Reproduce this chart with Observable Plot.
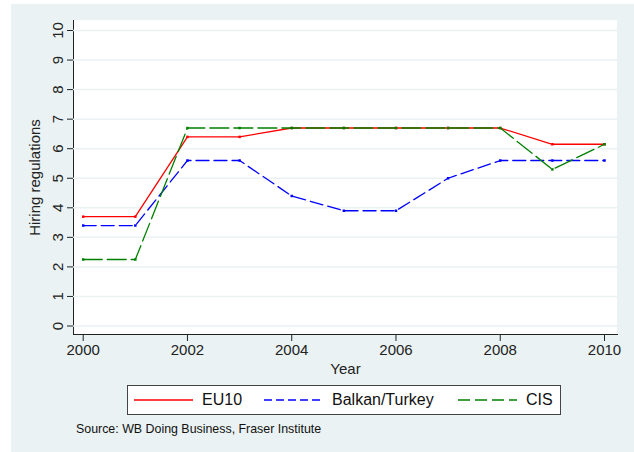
<!DOCTYPE html>
<html>
<head>
<meta charset="utf-8">
<script src="https://cdn.jsdelivr.net/npm/d3@7"></script>
<script src="https://cdn.jsdelivr.net/npm/@observablehq/plot@0.6"></script>
<style>
body { margin: 0; background: #fff; font-family: "Liberation Sans", Arial, sans-serif; }
#panel { position: absolute; left: 11px; top: 4px; width: 623px; height: 448px; background: #eaf2f3; }
#plotbg { position: absolute; left: 62px; top: 16px; width: 544px; height: 314px; background: #fff; }
#chart { position: absolute; left: 0; top: 0; }
#legend { position: absolute; left: 116px; top: 381px; width: 432px; height: 28px; background: #fff; border: 1.5px solid #444; }
.item { position: absolute; top: 0; height: 28px; display: flex; align-items: center; font-size: 16px; color: #111; }
.item svg { margin-right: 9px; }
#source { position: absolute; left: 65px; top: 418px; font-size: 12.4px; color: #111; }
</style>
</head>
<body>
<div id="panel">
  <div id="plotbg"></div>
  <div id="chart"></div>
  <div id="legend"></div>
  <div id="source">Source: WB Doing Business, Fraser Institute</div>
</div>
<script>
const years = [2000, 2001, 2002, 2003, 2004, 2005, 2006, 2007, 2008, 2009, 2010];
const eu10 = [3.7, 3.7, 6.4, 6.4, 6.7, 6.7, 6.7, 6.7, 6.7, 6.15, 6.15];
const balkan = [3.4, 3.4, 5.6, 5.6, 4.4, 3.9, 3.9, 5.0, 5.6, 5.6, 5.6];
const cis = [2.25, 2.25, 6.7, 6.7, 6.7, 6.7, 6.7, 6.7, 6.7, 5.3, 6.15];
const xTicks = [2000, 2002, 2004, 2006, 2008, 2010];
const yTicks = [0, 1, 2, 3, 4, 5, 6, 7, 8, 9, 10];

const series = [
  {name: "EU10", values: eu10, color: "#ff0000", dash: null, key: null},
  {name: "Balkan/Turkey", values: balkan, color: "#0000ff", dash: "13,5", key: "8,4"},
  {name: "CIS", values: cis, color: "#008000", dash: "19,5", key: "12,5"}
];

const lineMarks = [];
series.forEach(s => {
  const rows = years.map((y, i) => ({year: y, value: s.values[i]}));
  lineMarks.push(Plot.lineY(rows, {x: "year", y: "value", stroke: s.color, strokeWidth: 1.3, strokeDasharray: s.dash}));
  lineMarks.push(Plot.dot(rows, {x: "year", y: "value", symbol: "square", r: 1.4, fill: s.color, stroke: null}));
});

const chart = Plot.plot({
  width: 623,
  height: 375,
  marginLeft: 62,
  marginRight: 17,
  marginTop: 16,
  marginBottom: 45,
  style: {background: "none", color: "#222", fontFamily: "Liberation Sans, Arial, sans-serif", fontSize: "15px"},
  x: {
    domain: [2000, 2010],
    insetLeft: 9.7,
    insetRight: 13,
    ticks: xTicks,
    tickFormat: "d",
    tickSize: 7,
    tickPadding: 3,
    line: true,
    label: "Year",
    labelArrow: "none",
    labelAnchor: "center",
    labelOffset: 39
  },
  y: {
    domain: [0, 10],
    insetTop: 10,
    insetBottom: 8.5,
    ticks: yTicks,
    tickSize: 6,
    tickPadding: 5,
    tickRotate: -90,
    line: true,
    label: "Hiring regulations",
    labelArrow: "none",
    labelAnchor: "center",
    labelOffset: 44
  },
  marks: [
    Plot.gridY(yTicks, {stroke: "#eaf2f3", strokeOpacity: 1, strokeWidth: 1.5}),
    ...lineMarks
  ]
});
document.getElementById("chart").append(chart);

const legend = document.getElementById("legend");
const lefts = [6, 136, 330];
series.forEach((s, i) => {
  const item = document.createElement("div");
  item.className = "item";
  item.style.left = lefts[i] + "px";
  item.innerHTML = `<svg width="59" height="4"><line x1="0" x2="59" y1="2" y2="2" stroke="${s.color}" stroke-width="1.3" ${s.key ? `stroke-dasharray="${s.key}"` : ""}/></svg><span>${s.name}</span>`;
  legend.append(item);
});
</script>
</body>
</html>
